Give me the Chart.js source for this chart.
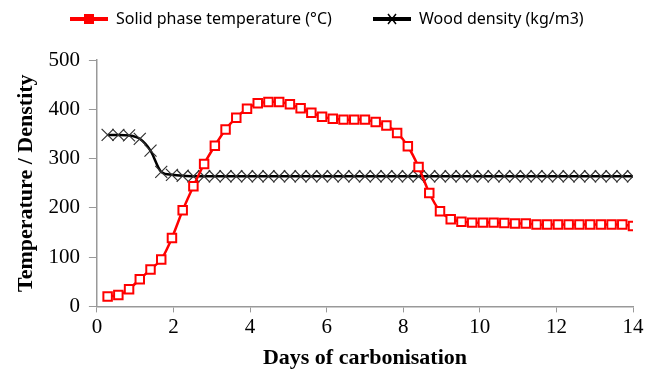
<!DOCTYPE html>
<html>
<head>
<meta charset="utf-8">
<script src="https://cdn.jsdelivr.net/npm/chart.js@4"></script>
<style>
  html, body { margin: 0; padding: 0; background: #fff; }
  #wrap { width: 657px; height: 373px; }
</style>
</head>
<body>
<div id="wrap"><canvas id="chart" width="657" height="373"></canvas></div>
<script>
// days of carbonisation (sample times)
const days = [0.28, 0.56, 0.84, 1.12, 1.4, 1.68, 1.96, 2.24, 2.52, 2.8,
  3.08, 3.36, 3.64, 3.92, 4.2, 4.48, 4.76, 5.04, 5.32, 5.6,
  5.88, 6.16, 6.44, 6.72, 7.0, 7.28, 7.56, 7.84, 8.12, 8.4,
  8.68, 8.96, 9.24, 9.52, 9.8, 10.08, 10.36, 10.64, 10.92, 11.2,
  11.48, 11.76, 12.04, 12.32, 12.6, 12.88, 13.16, 13.44, 13.72, 14.0];

const solidTemp = [20, 23, 35, 55, 75, 95, 139, 195, 244, 289,
  326, 359, 383, 401, 412, 415, 415, 410, 402, 393,
  385, 381, 379, 379, 379, 374, 367, 352, 325, 283,
  230, 193, 177, 172, 170, 170, 170, 169, 168, 168,
  166, 166, 166, 166, 166, 166, 166, 166, 166, 163];

const woodDensity = [348, 348, 347, 340, 316, 273, 267, 265, 264, 264,
  264, 264, 264, 264, 264, 264, 264, 264, 264, 264,
  264, 264, 264, 264, 264, 264, 264, 264, 264, 264,
  264, 264, 264, 264, 264, 264, 264, 264, 264, 264,
  264, 264, 264, 264, 264, 264, 264, 264, 264, 264];

const xTicks = [0, 2, 4, 6, 8, 10, 12, 14];
const yTicks = [0, 100, 200, 300, 400, 500];

const serif = "Liberation Serif, DejaVu Serif, serif";
Chart.defaults.font.family = serif;

// legend drawn by hand: a line with the marker in the middle, then the text
const legendPlugin = {
  id: 'lineLegend',
  afterDraw(chart) {
    const g = chart.ctx;
    const items = [
      { x: 70, color: '#ff0000', marker: 'rect', text: chart.data.datasets[0].label },
      { x: 373, color: '#000000', marker: 'cross', text: chart.data.datasets[1].label }
    ];
    const y = 19;
    g.save();
    items.forEach(it => {
      g.strokeStyle = it.color;
      g.lineWidth = 4;
      g.beginPath(); g.moveTo(it.x, y); g.lineTo(it.x + 38, y); g.stroke();
      if (it.marker === 'rect') {
        g.fillStyle = it.color;
        g.fillRect(it.x + 14, y - 5, 10, 10);
      } else {
        g.lineWidth = 1.5;
        g.beginPath();
        g.moveTo(it.x + 15, y - 5); g.lineTo(it.x + 23, y + 5);
        g.moveTo(it.x + 23, y - 5); g.lineTo(it.x + 15, y + 5);
        g.stroke();
      }
      g.fillStyle = '#000';
      g.font = "16px 'Noto Sans'";
      g.textBaseline = 'middle';
      g.fillText(it.text, it.x + 46, y);
    });
    g.restore();
  }
};

const ctx = document.getElementById('chart').getContext('2d');
new Chart(ctx, {
  type: 'line',
  data: {
    datasets: [{
      label: 'Solid phase temperature (°C)',
      data: days.map((d, i) => ({ x: d, y: solidTemp[i] })),
      borderColor: '#ff0000',
      borderWidth: 2.5,
      pointStyle: 'rect',
      pointRadius: 6,
      pointBorderWidth: 2,
      pointBackgroundColor: '#ffffff',
      pointBorderColor: '#ff0000',
      tension: 0.2,
      fill: false
    }, {
      label: 'Wood density (kg/m3)',
      data: days.map((d, i) => ({ x: d, y: woodDensity[i] })),
      borderColor: '#000000',
      borderWidth: 2.5,
      pointStyle: 'crossRot',
      pointRadius: 8.5,
      pointBorderWidth: 1.2,
      pointBorderColor: '#333333',
      cubicInterpolationMode: 'monotone',
      fill: false
    }]
  },
  options: {
    responsive: false,
    animation: false,
    layout: { padding: { left: 9, right: 24, top: 60, bottom: 1 } },
    plugins: {
      legend: { display: false },
      tooltip: { enabled: false }
    },
    scales: {
      x: {
        type: 'linear',
        min: 0, max: 14,
        afterBuildTicks: (axis) => { axis.ticks = xTicks.map(v => ({ value: v })); },
        grid: { drawOnChartArea: false, color: '#999', tickLength: 6 },
        border: { color: '#999', width: 1.5 },
        ticks: { color: '#000', font: { family: serif, size: 21, weight: 'normal' }, padding: 2 },
        title: { display: true, text: 'Days of carbonisation', color: '#000',
          font: { family: serif, size: 22, weight: 'bold' }, padding: { top: 4, bottom: 0 } }
      },
      y: {
        min: 0, max: 500,
        afterBuildTicks: (axis) => { axis.ticks = yTicks.map(v => ({ value: v })); },
        grid: { drawOnChartArea: false, color: '#999', tickLength: 8 },
        border: { color: '#999', width: 1.5 },
        ticks: { color: '#000', font: { family: serif, size: 21, weight: 'normal' }, padding: 9 },
        title: { display: true, text: 'Temperature / Denstity', color: '#000',
          font: { family: serif, size: 22, weight: 'bold' }, padding: { bottom: 0 } }
      }
    }
  },
  plugins: [legendPlugin]
});
</script>
</body>
</html>
